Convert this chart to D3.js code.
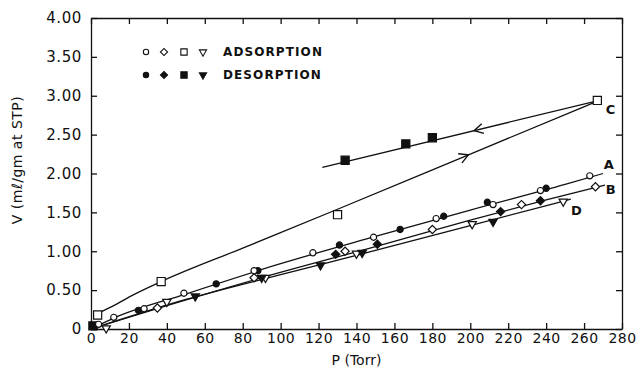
<!DOCTYPE html>
<html>
<head>
<meta charset="utf-8">
<script src="https://cdn.jsdelivr.net/npm/d3@7"></script>
<style>
  body { margin: 0; background: #fff; }
  text { font-family: "DejaVu Sans", sans-serif; fill: #111; }
</style>
</head>
<body>
<div id="chart"></div>
<script>
// values: [P (Torr), V (ml/gm at STP)]
var adsCircle   = [[4,0.06],[12,0.15],[28,0.26],[49,0.46],[86,0.75],[117,0.98],[149,1.18],[182,1.42],[212,1.60],[237,1.78],[263,1.97]];
var desCircle   = [[2,0.03],[25,0.24],[66,0.58],[88,0.75],[131,1.08],[163,1.28],[186,1.45],[209,1.63],[240,1.81]];
var adsDiamond  = [[35,0.27],[86,0.66],[134,1.00],[180,1.28],[227,1.60],[266,1.83]];
var desDiamond  = [[129,0.96],[151,1.09],[216,1.51],[237,1.65]];
var adsSquare   = [[3.5,0.18],[37,0.61],[130,1.47],[267,2.94]];
var desSquare   = [[1,0.04],[134,2.17],[166,2.38],[180,2.46]];
var adsTriangle = [[8,0.01],[40,0.35],[92,0.66],[140,0.97],[201,1.35],[249,1.64]];
var desTriangle = [[55,0.42],[90,0.66],[121,0.82],[143,0.98],[212,1.38]];

// hand-drawn fit curves
var curveA    = [[0,0],[12,0.14],[50,0.45],[100,0.84],[150,1.19],[200,1.53],[250,1.86],[270,2.00]];
var curveB    = [[0,0],[40,0.30],[90,0.66],[150,1.06],[200,1.40],[240,1.66],[271,1.85]];
var curveD    = [[0,0],[50,0.38],[100,0.70],[150,1.01],[200,1.33],[253,1.67]];
var curveCads = [[3.5,0.20],[12,0.30],[20,0.41],[37,0.61],[80,1.04],[130,1.54],[200,2.25],[268,2.94]];
var curveCdes = [[268,2.94],[122,2.08]];

var arrowsC = [{p: 199, line: curveCads}, {p: 202, line: curveCdes}];
var curveLabels = [["A",273,2.11],["B",274,1.80],["C",274,2.83],["D",256,1.52]];

var xTicks = d3.range(0, 281, 20);
var yTicks = d3.range(0, 4.01, 0.5);

var width = 641, height = 372;
var margin = {left: 91, right: 19, top: 18, bottom: 43};

var svg = d3.select("#chart").append("svg")
    .attr("width", width)
    .attr("height", height);

var x = d3.scaleLinear().domain([0, 280]).range([margin.left, width - margin.right]);
var y = d3.scaleLinear().domain([0, 4]).range([height - margin.bottom, margin.top]);

// frame + inside ticks on all four sides
svg.append("g")
    .attr("transform", "translate(0," + y(0) + ")")
    .call(d3.axisBottom(x).tickValues(xTicks).tickSizeInner(-6).tickSizeOuter(0).tickPadding(3)
        .tickFormat(d3.format("d")))
    .call(g => g.selectAll("text").attr("dy", "0.8em").style("font-size", "14px").style("letter-spacing", "0.5px"));

svg.append("g")
    .attr("transform", "translate(0," + y(4) + ")")
    .call(d3.axisTop(x).tickValues(xTicks).tickSizeInner(-6).tickSizeOuter(0).tickFormat(""));

svg.append("g")
    .attr("transform", "translate(" + x(0) + ",0)")
    .call(d3.axisLeft(y).tickValues(yTicks).tickSizeInner(-6).tickSizeOuter(0).tickPadding(9)
        .tickFormat(d => d === 0 ? "0" : d.toFixed(2)))
    .call(g => g.selectAll("text").style("font-size", "15px").style("letter-spacing", "0.6px"));

svg.append("g")
    .attr("transform", "translate(" + x(280) + ",0)")
    .call(d3.axisRight(y).tickValues(yTicks).tickSizeInner(-6).tickSizeOuter(0).tickFormat(""));

svg.selectAll(".domain, .tick line").attr("stroke", "#111").attr("stroke-width", 1.3);
svg.selectAll(".tick text").attr("fill", "#111");

// axis titles
svg.append("text")
    .attr("x", (x(0) + x(280)) / 2)
    .attr("y", 365)
    .attr("text-anchor", "middle")
    .style("font-size", "14px")
    .text("P (Torr)");

svg.append("text")
    .attr("transform", "translate(22," + 160 + ") rotate(-90)")
    .attr("text-anchor", "middle")
    .style("font-size", "14px")
    .style("letter-spacing", "0.5px")
    .text("V (mℓ/gm at STP)");

// fitted curves
var line = d3.line()
    .x(d => x(d[0]))
    .y(d => y(d[1]))
    .curve(d3.curveMonotoneX);

[curveA, curveB, curveD, curveCads].forEach(function (c) {
    svg.append("path")
        .datum(c)
        .attr("d", line)
        .attr("fill", "none")
        .attr("stroke", "#111")
        .attr("stroke-width", 1.3);
});

svg.append("path")
    .datum(curveCdes)
    .attr("d", d3.line().x(d => x(d[0])).y(d => y(d[1])))
    .attr("fill", "none")
    .attr("stroke", "#111")
    .attr("stroke-width", 1.3);

// open chevron arrowheads along curve C
arrowsC.forEach(function (a) {
    var pts = a.line.slice().sort((u, v) => u[0] - v[0]);
    var i = d3.bisector(d => d[0]).left(pts, a.p);
    var p0 = pts[Math.max(0, i - 1)], p1 = pts[Math.min(pts.length - 1, i)];
    var t = (a.p - p0[0]) / (p1[0] - p0[0]);
    var v = p0[1] + t * (p1[1] - p0[1]);
    var ang = Math.atan2(y(p1[1]) - y(p0[1]), x(p1[0]) - x(p0[0])) * 180 / Math.PI;
    if (a.line[0][0] > a.line[a.line.length - 1][0]) ang += 180;
    svg.append("path")
        .attr("transform", "translate(" + x(a.p) + "," + y(v) + ") rotate(" + ang + ")")
        .attr("d", "M-9,-5L0,0L-9,5")
        .attr("fill", "none")
        .attr("stroke", "#111")
        .attr("stroke-width", 1.4);
});

// markers
var shapes = {
    circle: {type: d3.symbolCircle, size: 30, rot: 0},
    diamond: {type: d3.symbolSquare, size: 34, rot: 45},
    square: {type: d3.symbolSquare, size: 66, rot: 0},
    triangle: {type: d3.symbolTriangle, size: 30, rot: 180}
};

function drawMarks(data, shape, filled) {
    var s = shapes[shape];
    svg.append("g")
        .selectAll("path")
        .data(data)
        .enter().append("path")
        .attr("d", d3.symbol().type(s.type).size(s.size))
        .attr("transform", d => "translate(" + x(d[0]) + "," + y(d[1]) + ") rotate(" + s.rot + ")")
        .attr("fill", filled ? "#111" : "#fff")
        .attr("stroke", "#111")
        .attr("stroke-width", 1.2);
}

drawMarks(adsSquare, "square", false);
drawMarks(desSquare, "square", true);
drawMarks(adsTriangle, "triangle", false);
drawMarks(desTriangle, "triangle", true);
drawMarks(adsDiamond, "diamond", false);
drawMarks(desDiamond, "diamond", true);
drawMarks(desCircle, "circle", true);
drawMarks(adsCircle, "circle", false);

// curve letters
svg.selectAll(".curve-label")
    .data(curveLabels)
    .enter().append("text")
    .attr("class", "curve-label")
    .attr("x", d => x(d[1]))
    .attr("y", d => y(d[2]))
    .attr("dy", "0.35em")
    .attr("text-anchor", "middle")
    .style("font-size", "13px")
    .style("font-weight", "bold")
    .text(d => d[0]);

// legend
var legendRows = [
    {label: "ADSORPTION", filled: false, y: 52},
    {label: "DESORPTION", filled: true, y: 75}
];
var legendShapes = ["circle", "diamond", "square", "triangle"];
var legendX = [146, 164, 184, 203];

legendRows.forEach(function (r) {
    legendShapes.forEach(function (sh, i) {
        var s = shapes[sh];
        svg.append("path")
            .attr("d", d3.symbol().type(s.type).size(s.size * (sh === "square" ? 0.6 : 0.75)))
            .attr("transform", "translate(" + legendX[i] + "," + r.y + ") rotate(" + s.rot + ")")
            .attr("fill", r.filled ? "#111" : "#fff")
            .attr("stroke", "#111")
            .attr("stroke-width", 1.1);
    });
    svg.append("text")
        .attr("x", 223)
        .attr("y", r.y)
        .attr("dy", "0.36em")
        .style("font-size", "12px")
        .style("font-weight", "600")
        .style("letter-spacing", "1.1px")
        .text(r.label);
});
</script>
</body>
</html>
